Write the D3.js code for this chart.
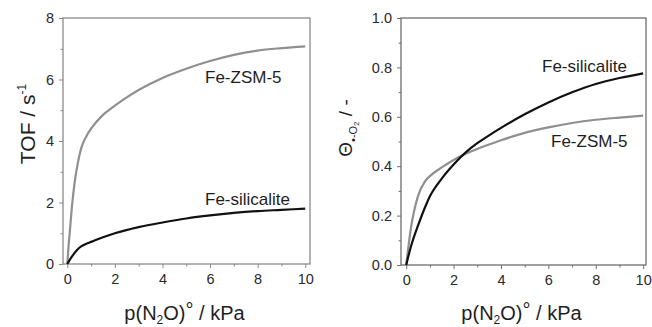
<!DOCTYPE html>
<html><head><meta charset="utf-8">
<script src="https://cdn.jsdelivr.net/npm/d3@7"></script>
<style>
html,body{margin:0;padding:0;background:#fff;}
svg{display:block;font-family:"Liberation Sans",Arial,sans-serif;}
</style></head>
<body>
<svg id="c" width="652" height="327"></svg>
<script>
// ---- data ----
const pLeftZSM = [0,0.05,0.1,0.2,0.3,0.4,0.5,0.6,0.8,1,1.5,2,2.5,3,4,5,6,7,8,9,10];
const tofZSM   = [0,0.55,1.0,1.9,2.6,3.1,3.5,3.8,4.15,4.4,4.85,5.15,5.42,5.66,6.05,6.35,6.6,6.8,6.94,7.02,7.08];
const pLeftSil = [0,0.2,0.4,0.6,0.8,1,1.5,2,3,4,5,6,7,8,9,10];
const tofSil   = [0,0.25,0.45,0.58,0.66,0.72,0.87,1.0,1.2,1.35,1.48,1.58,1.66,1.72,1.76,1.8];
const pRight   = [0,0.2,0.5,0.8,1,1.5,2,2.5,3,3.5,4,5,6,7,8,9,10];
const thetaSil = [0,0.075,0.16,0.235,0.278,0.35,0.407,0.455,0.493,0.525,0.555,0.61,0.658,0.699,0.733,0.757,0.776];
const thetaZSM = [0,0.15,0.28,0.34,0.36,0.395,0.425,0.45,0.47,0.488,0.505,0.535,0.557,0.575,0.588,0.597,0.605];
const xTicks = [0,2,4,6,8,10];
const leftYTicks = [0,2,4,6,8];
const rightYTicks = [0,0.2,0.4,0.6,0.8,1.0];

const svg = d3.select("#c");
const gray = "#8f8f8f", black = "#111";

function panel(o){
  const g = svg.append("g");
  const x = d3.scaleLinear().domain(o.xd).range([o.x0,o.x1]);
  const y = d3.scaleLinear().domain(o.yd).range([o.y1,o.y0]);
  const xa = d3.axisBottom(x).tickValues(d3.range(1,11,2)).tickSize(2.5).tickFormat("");
  const ya = d3.axisLeft(y).tickValues(o.yMinor).tickSize(2.5).tickFormat("");
  g.append("g").attr("transform",`translate(0,${o.y1})`).call(xa);
  g.append("g").attr("transform",`translate(${o.x0},0)`).call(ya);
  const xA = d3.axisBottom(x).tickValues(xTicks).tickSize(4).tickPadding(6).tickFormat(d3.format("d"));
  const yA = d3.axisLeft(y).tickValues(o.yTicks).tickSize(4).tickPadding(5).tickFormat(o.yFmt);
  g.append("g").attr("class","ax").attr("transform",`translate(0,${o.y1})`).call(xA);
  g.append("g").attr("class","ax").attr("transform",`translate(${o.x0},0)`).call(yA);
  g.selectAll(".domain").remove();
  g.selectAll(".tick line").attr("stroke",o.frame).attr("stroke-width",1);
  g.selectAll(".ax .tick text").attr("fill","#2a2a2a").style("font-size","14.5px").style("font-family","Liberation Sans, Arial, sans-serif");
  g.append("rect").attr("x",o.x0).attr("y",o.y0).attr("width",o.x1-o.x0).attr("height",o.y1-o.y0)
    .attr("fill","none").attr("stroke",o.frame).attr("stroke-width",1.3);
  const line = d3.line().x(d=>x(d[0])).y(d=>y(d[1])).curve(d3.curveMonotoneX);
  o.series.forEach(s=>{
    g.append("path").datum(s.xs.map((v,i)=>[v,s.ys[i]]))
      .attr("d",line).attr("fill","none").attr("stroke",s.color).attr("stroke-width",2.2);
  });
  o.labels.forEach(l=>{
    g.append("text").attr("x",l.x).attr("y",l.y).attr("fill","#1e1e1e").style("font-size","17px").text(l.t);
  });
  const t = g.append("text").attr("x",(o.x0+o.x1)/2-2).attr("y",320).attr("text-anchor","middle")
    .attr("fill","#1e1e1e").style("font-size","20px");
  t.append("tspan").text("p(N");
  t.append("tspan").text("2").style("font-size","12px").attr("dy",4);
  t.append("tspan").text("O)").attr("dy",-4);
  t.append("tspan").text("°").attr("dy",-3);
  t.append("tspan").text(" / kPa").attr("dy",3);
  return {x,y,g};
}

panel({xd:[-0.18,10.2], yd:[0,8], x0:63, x1:310, y0:18, y1:264, frame:"#8a8a8a",
  yTicks:leftYTicks, yMinor:[1,3,5,7], yFmt:d3.format("d"),
  series:[{xs:pLeftZSM,ys:tofZSM,color:gray},{xs:pLeftSil,ys:tofSil,color:black}],
  labels:[{x:205,y:83,t:"Fe-ZSM-5"},{x:205,y:205,t:"Fe-silicalite"}]});

panel({xd:[-0.22,10.12], yd:[0,1], x0:401, x1:646, y0:18, y1:265, frame:"#6e6e6e",
  yTicks:rightYTicks, yMinor:[0.1,0.3,0.5,0.7,0.9], yFmt:d3.format(".1f"),
  series:[{xs:pRight,ys:thetaZSM,color:gray},{xs:pRight,ys:thetaSil,color:black}],
  labels:[{x:542,y:72,t:"Fe-silicalite"},{x:551,y:147,t:"Fe-ZSM-5"}]});

const lt = svg.append("text").attr("transform","translate(35,124) rotate(-90)")
  .attr("text-anchor","middle").attr("fill","#1e1e1e").style("font-size","21px");
lt.append("tspan").text("TOF / s");
lt.append("tspan").text("-1").style("font-size","12px").attr("dy",-9);

const rt = svg.append("text").attr("transform","translate(352,128) rotate(-90)")
  .attr("text-anchor","middle").attr("fill","#1e1e1e").style("font-size","19px");
rt.append("tspan").text("Θ");
rt.append("tspan").text("•-O").style("font-size","11px").attr("dy",5);
rt.append("tspan").text("2").style("font-size","8px").attr("dy",2);
rt.append("tspan").text(" / -").attr("dy",-7);
</script>
</body></html>
